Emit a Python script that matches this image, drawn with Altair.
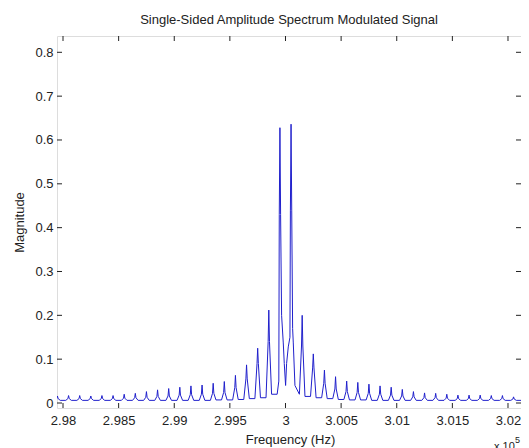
import altair as alt
import pandas as pd

# ---- data (frequency in units of 1e5 Hz) ----
peak_freq = [2.9795, 2.9805, 2.9815, 2.9825, 2.9835, 2.9845, 2.9855, 2.9865,
             2.9875, 2.9885, 2.9895, 2.9905, 2.9915, 2.9925, 2.9935, 2.9945,
             2.9955, 2.9965, 2.9975, 2.9985, 3.0015, 3.0025,
             3.0035, 3.0045, 3.0055, 3.0065, 3.0075, 3.0085, 3.0095, 3.0105,
             3.0115, 3.0125, 3.0135, 3.0145, 3.0155, 3.0165, 3.0175, 3.0185,
             3.0195, 3.0205]
peak_mag = [0.016, 0.017, 0.017, 0.016, 0.017, 0.017, 0.020, 0.022,
            0.026, 0.030, 0.033, 0.036, 0.039, 0.041, 0.045, 0.049,
            0.063, 0.087, 0.125, 0.212, 0.200, 0.112,
            0.075, 0.060, 0.050, 0.047, 0.043, 0.039, 0.036, 0.031,
            0.026, 0.023, 0.022, 0.020, 0.018, 0.018, 0.018, 0.017,
            0.017, 0.014]
shoulder_mag = [0.010, 0.010, 0.010, 0.010, 0.010, 0.010, 0.011, 0.012,
                0.013, 0.015, 0.016, 0.018, 0.019, 0.020, 0.022, 0.024,
                0.035, 0.055, 0.090, 0.140, 0.130, 0.080,
                0.045, 0.032, 0.026, 0.024, 0.022, 0.020, 0.018, 0.016,
                0.014, 0.012, 0.012, 0.011, 0.010, 0.010, 0.010, 0.010,
                0.010, 0.009]
# level on the left / right of each side peak
left_base = [0.006, 0.006, 0.006, 0.006, 0.006, 0.006, 0.006, 0.006,
             0.006, 0.006, 0.006, 0.006, 0.006, 0.006, 0.006, 0.007,
             0.007, 0.008, 0.010, 0.012, 0.020, 0.015,
             0.012, 0.010, 0.008, 0.007, 0.007, 0.006, 0.006, 0.006,
             0.006, 0.006, 0.006, 0.006, 0.006, 0.006, 0.006, 0.006,
             0.006, 0.006]
right_base = [0.006, 0.006, 0.006, 0.006, 0.006, 0.006, 0.006, 0.006,
              0.006, 0.006, 0.006, 0.006, 0.006, 0.006, 0.007, 0.007,
              0.008, 0.010, 0.012, 0.020, 0.015, 0.012,
              0.010, 0.008, 0.007, 0.007, 0.006, 0.006, 0.006, 0.006,
              0.006, 0.006, 0.006, 0.006, 0.006, 0.006, 0.006, 0.006,
              0.006, 0.006]
# the two main lines and the structure between them
center_freq = [2.99925, 2.99940, 2.99944, 2.99950, 2.99956, 2.99965, 2.99980,
               2.99989, 3.00001, 3.00010, 3.00025, 3.00040, 3.00044, 3.00050,
               3.00056, 3.00064, 3.00070, 3.00085]
center_mag = [0.020, 0.050, 0.430, 0.628, 0.430, 0.200, 0.137,
              0.090, 0.040, 0.090, 0.128, 0.150, 0.440, 0.636,
              0.440, 0.170, 0.137, 0.040]

x_ticks = [2.98, 2.985, 2.99, 2.995, 3.0, 3.005, 3.01, 3.015, 3.02]
y_ticks = [0, 0.1, 0.2, 0.3, 0.4, 0.5, 0.6, 0.7, 0.8]

X_DOMAIN = [2.97946, 3.02117]
Y_DOMAIN = [-0.0114, 0.8372]
W, H = 464, 372

# ---- build the line from the arrays ----
rows = [(2.9785, left_base[0])]
for c, p, s, lb, rb in zip(peak_freq, peak_mag, shoulder_mag, left_base, right_base):
    rows.append((c - 0.00025, lb))
    rows.append((c - 0.00006, s))
    rows.append((c, p))
    rows.append((c + 0.00006, s))
    rows.append((c + 0.00025, rb))
rows.append((3.0220, right_base[-1]))
rows += list(zip(center_freq, center_mag))
df = pd.DataFrame(rows, columns=["freq", "mag"]).sort_values("freq")

FONT = "Liberation Sans"
xs = alt.Scale(domain=X_DOMAIN, nice=False, zero=False)
ys = alt.Scale(domain=Y_DOMAIN, nice=False, zero=False)

line = alt.Chart(df).mark_line(color="#2020cc", strokeWidth=1, clip=True).encode(
    x=alt.X("freq:Q", scale=xs, axis=alt.Axis(
        values=x_ticks, format="~g", ticks=False, domain=False, grid=False,
        labelPadding=6, labelFontSize=13, labelFont=FONT, labelColor="#222",
        title="Frequency (Hz)", titleFont=FONT, titleFontSize=13,
        titleFontWeight="normal", titleColor="#222",
        titleX=233, titleY=31, titleBaseline="middle", titleAlign="center")),
    y=alt.Y("mag:Q", scale=ys, axis=alt.Axis(
        values=y_ticks, format="~g", ticks=False, domain=False, grid=False,
        labelPadding=4, labelFontSize=13, labelFont=FONT, labelColor="#222",
        title="Magnitude", titleFont=FONT, titleFontSize=13,
        titleFontWeight="normal", titleColor="#222", titleAngle=-90,
        titleX=-38, titleY=H / 2, titleBaseline="middle", titleAlign="center")),
)

xt = pd.DataFrame({"t": x_ticks})
yt = pd.DataFrame({"t": y_ticks})
TL = 5
tick_col = "#222"
xb = alt.Chart(xt).mark_rule(color=tick_col).encode(
    x=alt.X("t:Q", scale=xs), y=alt.value(H), y2=alt.value(H - TL))
xtop = alt.Chart(xt).mark_rule(color=tick_col).encode(
    x=alt.X("t:Q", scale=xs), y=alt.value(0), y2=alt.value(TL))
yl = alt.Chart(yt).mark_rule(color=tick_col).encode(
    y=alt.Y("t:Q", scale=ys), x=alt.value(0), x2=alt.value(TL))
yr = alt.Chart(yt).mark_rule(color=tick_col).encode(
    y=alt.Y("t:Q", scale=ys), x=alt.value(W), x2=alt.value(W - TL))

exp_base = alt.Chart(pd.DataFrame({"s": ["x 10"]})).mark_text(
    font=FONT, fontSize=11, color="#222", align="left", baseline="alphabetic"
).encode(x=alt.value(437), y=alt.value(414), text="s:N")
exp_sup = alt.Chart(pd.DataFrame({"s": ["5"]})).mark_text(
    font=FONT, fontSize=9, color="#222", align="left", baseline="alphabetic"
).encode(x=alt.value(458), y=alt.value(407), text="s:N")

chart = alt.layer(line, xb, xtop, yl, yr, exp_base, exp_sup).properties(
    width=W, height=H,
    title=alt.TitleParams("Single-Sided Amplitude Spectrum Modulated Signal",
                          font=FONT, fontSize=13, fontWeight="normal",
                          color="#222", anchor="middle", offset=9),
    autosize=alt.AutoSizeParams(type="none"),
    padding={"left": 49, "top": 28, "right": 0, "bottom": 40},
).configure_view(stroke="#222", strokeWidth=1).configure(background="white")

chart.save("out.html", embed_options={"renderer": "svg", "actions": False})
